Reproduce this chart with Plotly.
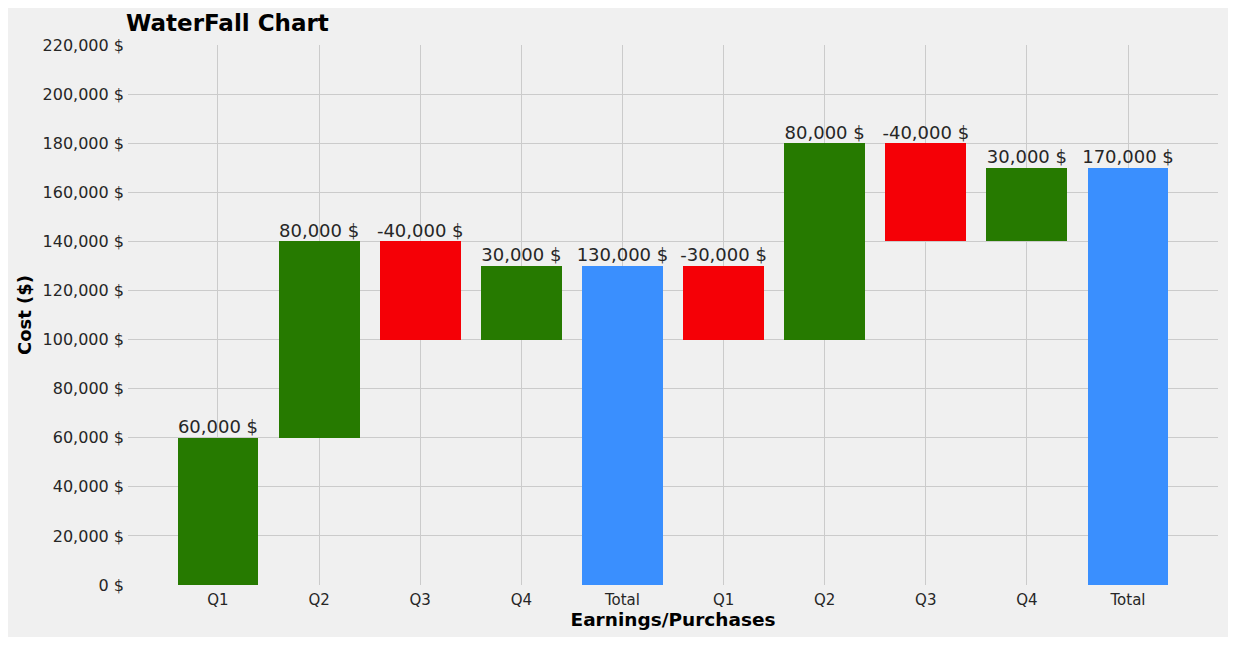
import plotly.graph_objects as go

categories = ["Q1", "Q2", "Q3", "Q4", "Total", "Q1", "Q2", "Q3", "Q4", "Total"]
amounts = [60000, 80000, -40000, 30000, None, -30000, 80000, -40000, 30000, None]
y_ticks = list(range(0, 220001, 20000))
y_tick_text = [f"{v:,} $" for v in y_ticks]

green = "#267a00"
red = "#f50006"
blue = "#3a8ffe"

# running totals -> bar bases / heights
bases, heights, colors, labels, tops = [], [], [], [], []
running = 0
for amt in amounts:
    if amt is None:
        bases.append(0)
        heights.append(running)
        colors.append(blue)
        labels.append(f"{running:,} $")
        tops.append(running)
    else:
        bases.append(running)
        heights.append(amt)
        colors.append(green if amt >= 0 else red)
        labels.append(f"{amt:,} $")
        running += amt
        tops.append(max(running, running - amt))

x = list(range(len(categories)))

fig = go.Figure()
fig.add_trace(go.Bar(
    x=x, y=heights, base=bases,
    width=0.8,
    marker=dict(color=colors, line=dict(width=0)),
    showlegend=False,
))
fig.add_trace(go.Scatter(
    x=x, y=tops, mode="text",
    text=labels, textposition="top center",
    textfont=dict(family="DejaVu Sans", size=18, color="#262626"),
    showlegend=False, hoverinfo="skip",
))

# page body has an 8px margin, so the figure is sized to sit inside it
fig.update_layout(
    width=1220, height=629,
    margin=dict(l=120, r=10, t=37, b=52),
    paper_bgcolor="#f0f0f0",
    plot_bgcolor="#f0f0f0",
    font=dict(family="DejaVu Sans", color="#262626"),
    title=dict(
        text="<b>WaterFall Chart</b>",
        font=dict(size=23, color="black"),
        x=118 / 1220, xanchor="left", xref="container",
        y=1 - 15 / 629, yanchor="middle", yref="container",
    ),
    bargap=0,
)
fig.update_xaxes(
    range=[-0.89, 9.89],
    tickvals=x, ticktext=categories,
    tickfont=dict(size=15, color="#262626"),
    ticklabelstandoff=4,
    showgrid=True, gridcolor="#cbcbcb", gridwidth=1,
    zeroline=False, showline=False, ticks="",
    title=dict(text="<b>Earnings/Purchases</b>", font=dict(size=18.5, color="black"), standoff=3),
)
fig.update_yaxes(
    range=[0, 220000],
    tickvals=y_ticks, ticktext=y_tick_text,
    tickfont=dict(size=16, color="#262626"),
    ticklabelstandoff=3,
    showgrid=True, gridcolor="#cbcbcb", gridwidth=1,
    zeroline=False, showline=False, ticks="",
    title=dict(text="<b>Cost ($)</b>", font=dict(size=18, color="black"), standoff=6),
)

fig.write_html("out.html")
